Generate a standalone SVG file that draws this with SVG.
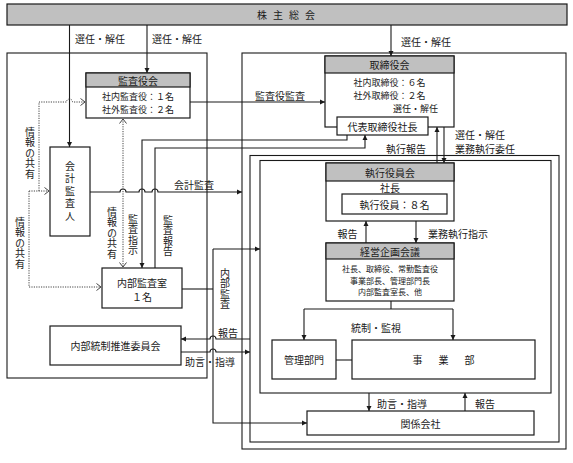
<svg xmlns="http://www.w3.org/2000/svg" width="573" height="463" viewBox="0 0 573 463">
<defs>
<style>
text{font-family:"Noto Sans CJK JP","Noto Sans CJK SC",sans-serif;font-size:10px;fill:#1a1a1a;dominant-baseline:central}
.c{text-anchor:middle}
.m{font-size:9px}
.s{font-size:8px}
.v{writing-mode:vertical-rl;text-anchor:middle;letter-spacing:0.5px}
.box{fill:#fff;stroke:#1a1a1a;stroke-width:1.2}
.hdr{fill:#c0c0c0;stroke:#1a1a1a;stroke-width:1.2}
.cont{fill:none;stroke:#1a1a1a;stroke-width:1.1}
.ln{fill:none;stroke:#1a1a1a;stroke-width:1.1}
.dot{fill:none;stroke:#444;stroke-width:1;stroke-dasharray:1.2 1.2}
.ar{marker-end:url(#ah)}
.da{marker-end:url(#oh)}
</style>
<marker id="ah" markerUnits="userSpaceOnUse" markerWidth="6" markerHeight="6" refX="5" refY="3" orient="auto"><path d="M0,0.5 L5,3 L0,5.5 z" fill="#1a1a1a"/></marker>
<marker id="oh" markerUnits="userSpaceOnUse" markerWidth="7" markerHeight="8" refX="5" refY="4" orient="auto-start-reverse"><path d="M0.5,0.5 L5,4 L0.5,7.5" fill="none" stroke="#444" stroke-width="1"/></marker>
</defs>

<g id="containers">
<rect class="cont" x="7" y="53" width="200" height="325"/>
<rect class="cont" x="242" y="53" width="324" height="396"/>
<rect class="cont" x="250" y="155.5" width="309" height="286.5"/>
<rect class="cont" x="260" y="160.5" width="291" height="232.5"/>
</g>

<g id="connectors">
<path class="ln ar" d="M69.5,25 V147"/>
<path class="ln ar" d="M147,25 V73"/>
<path class="ln ar" d="M391,25 V56"/>
<path class="ln ar" d="M190,102 H325"/>
<path class="ln ar" d="M347,135 V140 H142 V268"/>
<path class="ln ar" d="M155,268 V148 H365 V135"/>
<path class="ln ar" d="M90,192 H120 A3,3 0 0 1 126,192 H139 A3,3 0 0 1 145,192 H152 A3,3 0 0 1 158,192 H242"/>
<path class="ln" d="M182,289 H213"/>
<path class="ln ar" d="M213,249 H260"/>
<path class="ln ar" d="M213,249 V423 H307"/>
<path class="ln ar" d="M250,339 H216 A3,3 0 0 0 210,339 H181"/>
<path class="ln ar" d="M181,352 H210 A3,3 0 0 1 216,352 H250"/>
<path class="ln ar" d="M437,163 V127"/>
<path class="ln ar" d="M444,127 V163"/>
<path class="ln ar" d="M385,101 V113"/>
<path class="ln ar" d="M366,243 V221"/>
<path class="ln ar" d="M416,221 V243"/>
<path class="ln" d="M391,301 V309 M304,309 H453"/>
<path class="ln ar" d="M304,309 V340"/>
<path class="ln ar" d="M453,309 V340"/>
<path class="ln" d="M336,360 H352"/>
<path class="ln ar" d="M369,393 V411"/>
<path class="ln ar" d="M465,411 V393"/>
<path class="dot da" d="M39,191 V102 H66.5 A3,3 0 0 1 72.5,102 H85"/>
<path class="dot da" d="M29,191 H49"/>
<path class="dot da" d="M29,191 V287 H101"/>
<path class="dot da" style="marker-start:url(#oh)" d="M123,119 V267"/>
</g>

<g id="n-kabunushi">
<rect class="hdr" x="7" y="4" width="560" height="21"/>
<text class="c" x="289" y="14.5" letter-spacing="6">株主総会</text>
</g>

<g id="n-kansayakukai">
<rect class="box" x="86" y="73" width="104" height="45"/>
<rect class="hdr" x="86" y="73" width="104" height="14"/>
<text class="c" x="138" y="80">監査役会</text>
<text class="c m" x="138" y="96"><tspan x="138" y="96">社内監査役：１名</tspan><tspan x="138" y="109.2">社外監査役：２名</tspan></text>
</g>

<g id="n-kaikei">
<rect class="box" x="50" y="147" width="40" height="89"/>
<text class="v" x="70" y="192" style="letter-spacing:2.5px">会計監査人</text>
</g>

<g id="n-naibukansa">
<rect class="box" x="102" y="268" width="80" height="40"/>
<text class="c" x="142" y="281.5"><tspan x="142" y="281.5">内部監査室</tspan><tspan x="142" y="296.2">１名</tspan></text>
</g>

<g id="n-naibutousei">
<rect class="box" x="50" y="326" width="131" height="39"/>
<text class="c" x="115.5" y="345.5">内部統制推進委員会</text>
</g>

<g id="n-torishimariyakukai">
<rect class="box" x="325" y="56" width="129" height="71"/>
<rect class="hdr" x="325" y="56" width="129" height="17"/>
<text class="c" x="389.5" y="64.5">取締役会</text>
<text class="c m" x="389.5" y="82"><tspan x="389.5" y="82">社内取締役：６名</tspan><tspan x="389.5" y="95.2">社外取締役：２名</tspan></text>
<text class="m" x="393" y="108.4">選任・解任</text>
</g>

<g id="n-daihyo">
<rect class="box" x="337" y="117" width="91" height="18"/>
<text class="c" x="382.5" y="126">代表取締役社長</text>
</g>

<g id="n-shikkoyakuinkai">
<rect class="box" x="326" y="163" width="128" height="58"/>
<rect class="hdr" x="326" y="163" width="128" height="18"/>
<text class="c" x="390" y="172">執行役員会</text>
<text class="c" x="390" y="187">社長</text>
<rect class="box" x="342" y="194" width="105" height="20"/>
<text class="c" x="394.5" y="204">執行役員：８名</text>
</g>

<g id="n-keieikikaku">
<rect class="box" x="326" y="243" width="128" height="58"/>
<rect class="hdr" x="326" y="243" width="128" height="16"/>
<text class="c" x="390" y="251">経営企画会議</text>
<text class="c s" x="390" y="268"><tspan x="390" y="268">社長、取締役、常勤監査役</tspan><tspan x="390" y="279.7">事業部長、管理部門長</tspan><tspan x="390" y="291.4">内部監査室長、他</tspan></text>
</g>

<g id="n-kanri">
<rect class="box" x="272" y="340" width="64" height="39"/>
<text class="c" x="304" y="359.5">管理部門</text>
</g>

<g id="n-jigyobu">
<rect class="box" x="352" y="340" width="183" height="39"/>
<text class="c" x="445" y="359.5" letter-spacing="3">事　業　部</text>
</g>

<g id="n-kankei">
<rect class="box" x="307" y="411" width="227" height="24"/>
<text class="c" x="420.5" y="423">関係会社</text>
</g>

<g id="labels">
<text x="75" y="38">選任・解任</text>
<text x="152" y="38">選任・解任</text>
<text x="401" y="41">選任・解任</text>
<text class="c" x="280" y="95">監査役監査</text>
<text class="c" x="194" y="184">会計監査</text>
<text class="c" x="406" y="148">執行報告</text>
<text x="455" y="133.5"><tspan x="455" y="133.5">選任・解任</tspan><tspan x="455" y="148.2">業務執行委任</tspan></text>
<text class="c" x="347.5" y="233">報告</text>
<text x="428" y="233">業務執行指示</text>
<text class="c" x="376" y="327">統制・監視</text>
<text class="c" x="228" y="332">報告</text>
<text class="c" x="210" y="361">助言・指導</text>
<text x="377" y="403">助言・指導</text>
<text x="475" y="403">報告</text>
<text class="v" x="30" y="153">情報の共有</text>
<text class="v" x="20" y="243">情報の共有</text>
<text class="v" x="112" y="233">情報の共有</text>
<text class="v" x="133" y="235">監査指示</text>
<text class="v" x="168" y="236">監査報告</text>
<text class="v" x="225" y="289">内部監査</text>
</g>
</svg>
